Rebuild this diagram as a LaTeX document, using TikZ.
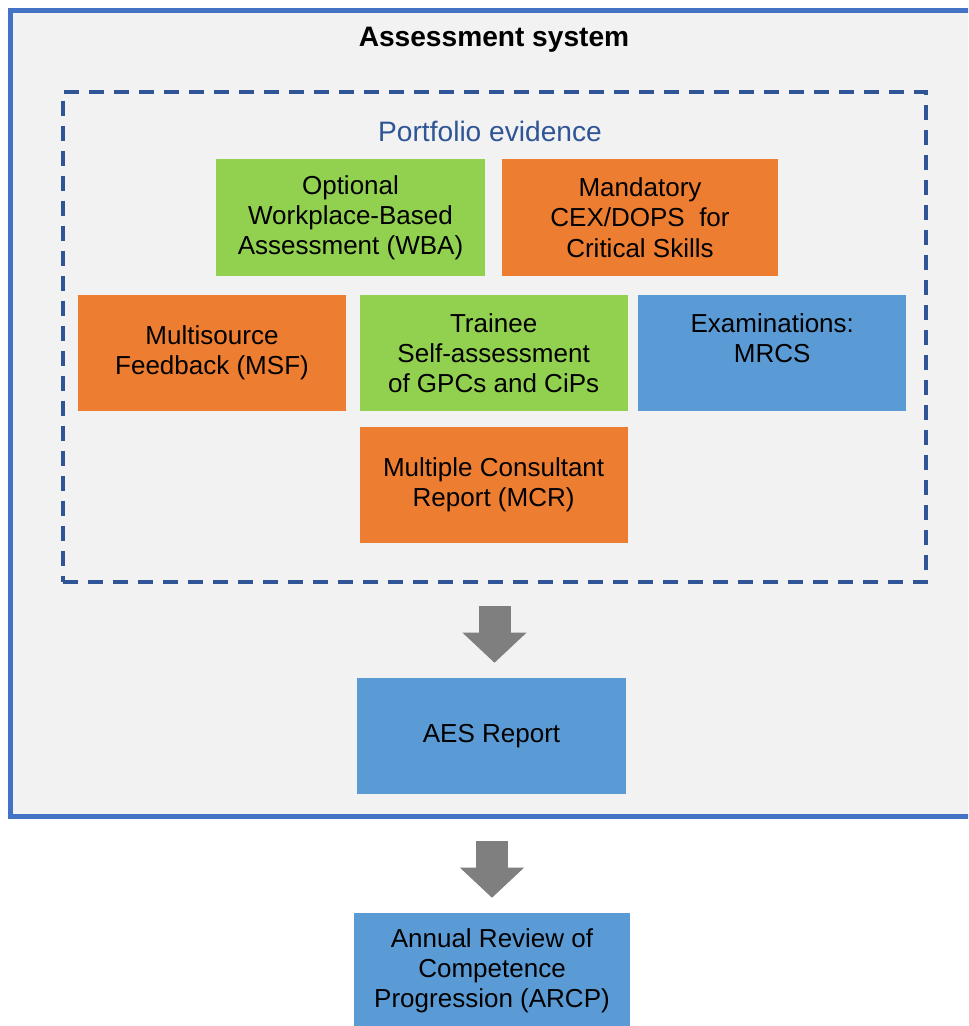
\documentclass[tikz,border=0pt]{standalone}
\usepackage{fontspec}
\setmainfont{Liberation Sans}
\usetikzlibrary{arrows.meta,positioning}
\definecolor{frameblue}{HTML}{4472C4}
\definecolor{panelgrey}{HTML}{F2F2F2}
\definecolor{dashblue}{HTML}{2F5597}
\definecolor{wbagreen}{HTML}{92D050}
\definecolor{msforange}{HTML}{ED7D31}
\definecolor{examblue}{HTML}{5B9BD5}
\definecolor{arrowgrey}{HTML}{7F7F7F}

\begin{document}
\begin{tikzpicture}[x=0.025cm, y=-0.025cm, font=\fontsize{18.5}{21.5}\selectfont,
        every node/.append style={align=center, inner sep=0pt}]
      \tikzstyle{card} = [minimum width=6.7cm, minimum height=2.9cm, text=black]
      \tikzstyle{greencard} = [card, fill=wbagreen]
      \tikzstyle{orangecard} = [card, fill=msforange]
      \tikzstyle{bluecard} = [card, fill=examblue]
      \tikzstyle{bigarrow} = [draw=arrowgrey, line width=0.8cm, line cap=butt,
        -{Triangle[length=0.75cm, width=1.6cm, line width=0pt]}]
      \useasboundingbox (0,0) rectangle (968,1026);
      \clip (0,0) rectangle (968,1026);
      % outer frame and dashed portfolio box
      \node (system) [draw=frameblue, line width=3.5pt, fill=panelgrey,
        minimum width=24.45cm, minimum height=20.13cm] at (500,413.5) {};
      \node (title) at (494,40) [font=\bfseries\fontsize{20}{24}\selectfont] {Assessment system};
      \node (portfolio) [draw=dashblue, line width=2.8pt, dash pattern=on 0.375cm off 0.25cm,
        minimum width=21.58cm, minimum height=12.25cm] at (494.5,337) {};
      \node (evidence) at (490,131) [text=dashblue, font=\fontsize{20}{24}\selectfont] {Portfolio evidence};
      % evidence cards
      \node (wba) [greencard] at (350.5,217.5) {Optional\\Workplace-Based\\Assessment (WBA)};
      \node (mandatory) [orangecard, minimum width=6.9cm] at (640,217.5) {Mandatory\\CEX/DOPS~ for\\Critical Skills};
      \node (msf) [orangecard] at (212,353) {Multisource\\Feedback (MSF)};
      \node (trainee) [greencard, right=0.325cm of msf] {Trainee\\Self-assessment\\of GPCs and CiPs};
      \node (exams) [bluecard, right=0.25cm of trainee] {Examinations:\\MRCS\\~};
      \node (mcr) [orangecard, below=0.375cm of trainee] {Multiple Consultant\\Report (MCR)};
      % outcomes
      \node (aes) [bluecard] at (491.5,736) {AES Report};
      \node (arcp) [bluecard, minimum width=6.9cm] at (492,971) {Annual Review of\\Competence\\Progression (ARCP)};
      \draw[bigarrow, shorten <=0.55cm, shorten >=0.375cm] (portfolio.south) -- (portfolio.south |- aes.north);
      \draw[bigarrow, shorten <=0.55cm, shorten >=0.375cm] (arcp.north |- system.south) -- (arcp.north);
    \end{tikzpicture}
\end{document}
